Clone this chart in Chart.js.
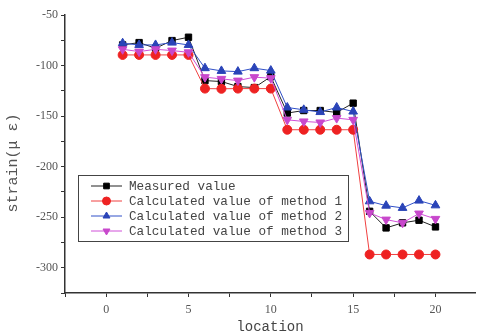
<!DOCTYPE html>
<html>
<head>
<meta charset="utf-8">
<script src="https://cdn.jsdelivr.net/npm/chart.js@4.4.1/dist/chart.umd.min.js"></script>
<style>
  html, body { margin: 0; padding: 0; background: #fff; overflow: hidden; }
</style>
</head>
<body>
<canvas id="strainChart" width="481" height="336"></canvas>
<script>
// data
const locations = [1, 2, 3, 4, 5, 6, 7, 8, 9, 10, 11, 12, 13, 14, 15, 16, 17, 18, 19, 20];
const measured = [-79.6, -77.3, -82.9, -75.3, -72, -114.9, -115.8, -120.8, -121.8, -111,
                  -147, -144.5, -144.5, -146.4, -137.2, -244.2, -260.6, -255.6, -253, -259.6];
const method1 = [-89.5, -89.5, -89.5, -89.5, -89.5, -122.8, -123, -122.8, -122.8, -122.8,
                 -163.5, -163.5, -163.5, -163.5, -163.5, -286.9, -286.9, -286.9, -286.9, -286.9];
const method2 = [-77.9, -79.6, -79.6, -77.3, -79.6, -102.6, -105.3, -106, -102.6, -105,
                 -141.5, -143.8, -146, -141.5, -145.5, -234.3, -238.6, -240.8, -233.6, -238.3];
const method3 = [-83.9, -86.2, -83.9, -85.2, -86.9, -111.5, -113.2, -114.9, -111.5, -112.5,
                 -153.7, -155.3, -156.3, -152, -153.7, -245.8, -252.4, -255.6, -246.4, -251.7];
const xTickLabels = [0, 5, 10, 15, 20];
const xMinorTicks = [-2.5, 2.5, 7.5, 12.5, 17.5];
const yTickLabels = [-300, -250, -200, -150, -100, -50];
const yTitle = 'strain(μ ε)';

function pts(values) {
    return locations.map((x, i) => ({ x: x, y: values[i] }));
}

// Origin style legend: short line with a marker in the middle, plus the y title
const legendBox = {
    id: 'legendBox',
    afterDraw(chart) {
        const ctx = chart.ctx;
        const x0 = 78, y0 = 175, w = 270, h = 66;
        ctx.save();
        ctx.fillStyle = '#fff';
        ctx.fillRect(x0, y0, w, h);
        ctx.strokeStyle = '#444';
        ctx.lineWidth = 1;
        ctx.strokeRect(x0 + 0.5, y0 + 0.5, w, h);
        chart.data.datasets.forEach((ds, i) => {
            const y = y0 + 11 + i * 15;
            ctx.strokeStyle = ds.borderColor;
            ctx.lineWidth = 1;
            ctx.beginPath();
            ctx.moveTo(x0 + 13, y);
            ctx.lineTo(x0 + 44, y);
            ctx.stroke();
            ctx.fillStyle = ds.pointBackgroundColor;
            ctx.strokeStyle = ds.pointBorderColor;
            Chart.helpers.drawPoint(ctx, {
                pointStyle: ds.pointStyle,
                rotation: ds.pointRotation || 0,
                radius: 4,
                borderWidth: 1
            }, x0 + 28.5, y);
            ctx.fillStyle = '#444';
            ctx.font = '12.7px "Liberation Mono"';
            ctx.textBaseline = 'middle';
            ctx.textAlign = 'left';
            ctx.fillText(ds.label, x0 + 51, y + 1);
        });

        // y axis title, sits a bit below the middle like the original
        ctx.translate(13, 163);
        ctx.rotate(-Math.PI / 2);
        ctx.fillStyle = '#555';
        ctx.font = '15px "Liberation Mono"';
        ctx.textAlign = 'center';
        ctx.textBaseline = 'middle';
        ctx.fillText(yTitle, 0, 0);
        ctx.restore();
    }
};

const ctx = document.getElementById('strainChart').getContext('2d');
const chart = new Chart(ctx, {
    type: 'line',
    data: {
        datasets: [{
            label: 'Measured value',
            data: pts(measured),
            borderColor: '#222',
            pointBackgroundColor: '#000',
            pointBorderColor: '#000',
            pointStyle: 'rect',
            pointRadius: 4.5,
            borderWidth: 1,
            order: 4
        }, {
            label: 'Calculated value of method 1',
            data: pts(method1),
            borderColor: '#f04040',
            pointBackgroundColor: '#ee2222',
            pointBorderColor: '#ee2222',
            pointStyle: 'circle',
            pointRadius: 4.5,
            borderWidth: 1,
            order: 3
        }, {
            label: 'Calculated value of method 2',
            data: pts(method2),
            borderColor: '#3050c8',
            pointBackgroundColor: '#2a44b8',
            pointBorderColor: '#2a44b8',
            pointStyle: 'triangle',
            pointRadius: 5,
            borderWidth: 1,
            order: 2
        }, {
            label: 'Calculated value of method 3',
            data: pts(method3),
            borderColor: '#d050d8',
            pointBackgroundColor: '#c848cc',
            pointBorderColor: '#c848cc',
            pointStyle: 'triangle',
            pointRotation: 180,
            pointRadius: 5,
            borderWidth: 1,
            order: 1
        }]
    },
    options: {
        responsive: false,
        animation: false,
        layout: {
            padding: { top: 15, right: 0, left: 0, bottom: 0 }
        },
        plugins: {
            legend: { display: false },
            tooltip: { enabled: false }
        },
        scales: {
            x: {
                type: 'linear',
                min: -2.5,
                max: 22.4,
                afterFit: s => { s.height = 43; },
                afterBuildTicks: s => {
                    s.ticks = xTickLabels.concat(xMinorTicks).sort((a, b) => a - b).map(v => ({ value: v }));
                },
                border: { color: '#333', width: 1.5 },
                grid: { drawOnChartArea: false, tickLength: 4, tickColor: '#333' },
                ticks: {
                    autoSkip: false,
                    maxRotation: 0,
                    padding: 6,
                    color: '#555',
                    font: { family: '"Liberation Serif"', size: 12 },
                    callback: v => xTickLabels.includes(v) ? String(v) : ''
                },
                title: {
                    display: true,
                    text: 'location',
                    color: '#444',
                    font: { family: '"Liberation Mono"', size: 14 },
                    padding: { top: 0, bottom: 0 }
                }
            },
            y: {
                min: -325,
                max: -50,
                afterFit: s => { s.width = 65; },
                border: { color: '#333', width: 1.5 },
                grid: { drawOnChartArea: false, tickLength: 4, tickColor: '#333' },
                ticks: {
                    stepSize: 25,
                    autoSkip: false,
                    color: '#555',
                    font: { family: '"Liberation Serif"', size: 12 },
                    callback: v => yTickLabels.includes(v) ? String(v) : ''
                }
            }
        }
    },
    plugins: [legendBox]
});
</script>
</body>
</html>
